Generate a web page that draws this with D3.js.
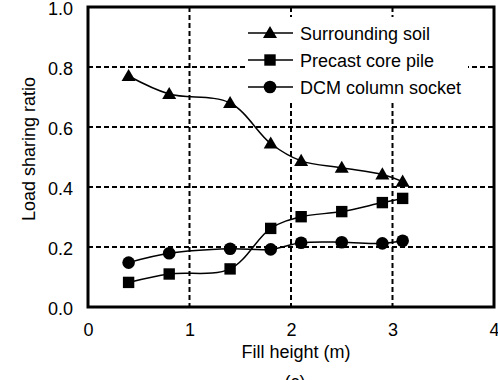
<!DOCTYPE html>
<html>
<head>
<meta charset="utf-8">
<script src="https://cdn.jsdelivr.net/npm/d3@7"></script>
<style>
    body { margin: 0; background: white; }
    svg { display: block; font-family: Arial, "Liberation Sans", sans-serif; }
</style>
</head>
<body>
<div class="div-line-plot"></div>
<script>
// DATA

var fillHeight = [0.4, 0.8, 1.4, 1.8, 2.1, 2.5, 2.9, 3.1];
var soilRatio = [0.77, 0.71, 0.68, 0.545, 0.487, 0.464, 0.442, 0.418];
var pileRatio = [0.082, 0.11, 0.127, 0.262, 0.301, 0.318, 0.348, 0.362];
var socketRatio = [0.148, 0.179, 0.194, 0.192, 0.214, 0.216, 0.212, 0.221];
var seriesNames = ["Surrounding soil", "Precast core pile", "DCM column socket"];
var xTicks = [0, 1, 2, 3, 4];
var yTicks = [0, 0.2, 0.4, 0.6, 0.8, 1.0];

// VISUALIZATION

var width = 498;
var height = 380;
var plotLeft = 88, plotRight = 494, plotTop = 7, plotBottom = 307;

var svg = d3.select('.div-line-plot').append('svg')
    .attr('width', width)
    .attr('height', height);

var x_scale = d3.scaleLinear().domain([0, 4]).range([plotLeft, plotRight]);
var y_scale = d3.scaleLinear().domain([0, 1]).range([plotBottom, plotTop]);

// dashed grid
svg.append("g")
    .selectAll("line")
    .data(xTicks.slice(1, -1))
    .join("line")
    .attr("x1", d => x_scale(d)).attr("x2", d => x_scale(d))
    .attr("y1", plotTop).attr("y2", plotBottom)
    .attr("stroke", "black").attr("stroke-width", 2)
    .attr("stroke-dasharray", "5,3");

svg.append("g")
    .selectAll("line")
    .data(yTicks.slice(1, -1))
    .join("line")
    .attr("x1", plotLeft).attr("x2", plotRight)
    .attr("y1", d => y_scale(d)).attr("y2", d => y_scale(d))
    .attr("stroke", "black").attr("stroke-width", 2)
    .attr("stroke-dasharray", "5,3");

// axes (labels only, box drawn separately)
var x_axis = d3.axisBottom(x_scale).tickValues(xTicks).tickSize(0).tickPadding(16)
    .tickFormat(d3.format("d"));
svg.append("g")
    .attr("class", "x axis")
    .attr("transform", "translate(0," + plotBottom + ")")
    .call(x_axis)
    .call(g => g.select(".domain").remove())
    .selectAll("text").attr("font-size", "18px").attr("font-family", "Arial, 'Liberation Sans', sans-serif").attr("fill", "black");

var y_axis = d3.axisLeft(y_scale).tickValues(yTicks).tickSize(0).tickPadding(15)
    .tickFormat(d3.format(".1f"));
svg.append("g")
    .attr("class", "y axis")
    .attr("transform", "translate(" + plotLeft + ",0)")
    .call(y_axis)
    .call(g => g.select(".domain").remove())
    .selectAll("text").attr("font-size", "18px").attr("font-family", "Arial, 'Liberation Sans', sans-serif").attr("fill", "black")
    .attr("dy", "0.42em");

// legend background hides grid
svg.append("rect")
    .attr("x", 245).attr("y", 17)
    .attr("width", 223).attr("height", 83)
    .attr("fill", "white");

// series
var line = d3.line()
    .x((d, i) => x_scale(fillHeight[i]))
    .y(d => y_scale(d))
    .curve(d3.curveCatmullRom.alpha(0.5));

var series = [soilRatio, pileRatio, socketRatio];
var shapes = [d3.symbolTriangle, d3.symbolSquare, d3.symbolCircle];
var sizes = [85, 130, 125];

series.forEach(function (values, k) {
    svg.append("path")
        .attr("d", line(values))
        .attr("fill", "none")
        .attr("stroke", "black")
        .attr("stroke-width", 1.5);
});

series.forEach(function (values, k) {
    svg.append("g")
        .selectAll("path")
        .data(values)
        .join("path")
        .attr("transform", (d, i) => "translate(" + x_scale(fillHeight[i]) + "," + (y_scale(d) + (k == 0 ? 1 : 0)) + ")")
        .attr("d", d3.symbol().type(shapes[k]).size(sizes[k]))
        .attr("fill", "black");
});

// legend
var legendRows = [33, 60, 87];
seriesNames.forEach(function (name, k) {
    var g = svg.append("g").attr("transform", "translate(0," + legendRows[k] + ")");
    g.append("line")
        .attr("x1", 248).attr("x2", 293)
        .attr("stroke", "black").attr("stroke-width", 1.5);
    g.append("path")
        .attr("transform", "translate(270," + (k == 0 ? 1 : 0) + ")")
        .attr("d", d3.symbol().type(shapes[k]).size(sizes[k]))
        .attr("fill", "black");
    g.append("text")
        .attr("x", 300).attr("y", 6.5)
        .attr("font-size", "18px")
        .text(name);
});

// plot box
svg.append("rect")
    .attr("x", plotLeft).attr("y", plotTop)
    .attr("width", plotRight - plotLeft).attr("height", plotBottom - plotTop)
    .attr("fill", "none")
    .attr("stroke", "black").attr("stroke-width", 3);

// titles
svg.append("text")
    .attr("x", 296).attr("y", 358)
    .attr("text-anchor", "middle")
    .attr("font-size", "18px")
    .text("Fill height (m)");

svg.append("text")
    .attr("transform", "translate(35,149) rotate(-90)")
    .attr("text-anchor", "middle")
    .attr("font-size", "18px")
    .text("Load sharing ratio");

svg.append("text")
    .attr("x", 295).attr("y", 388)
    .attr("text-anchor", "middle")
    .attr("font-size", "18px")
    .text("(c)");
</script>
</body>
</html>
